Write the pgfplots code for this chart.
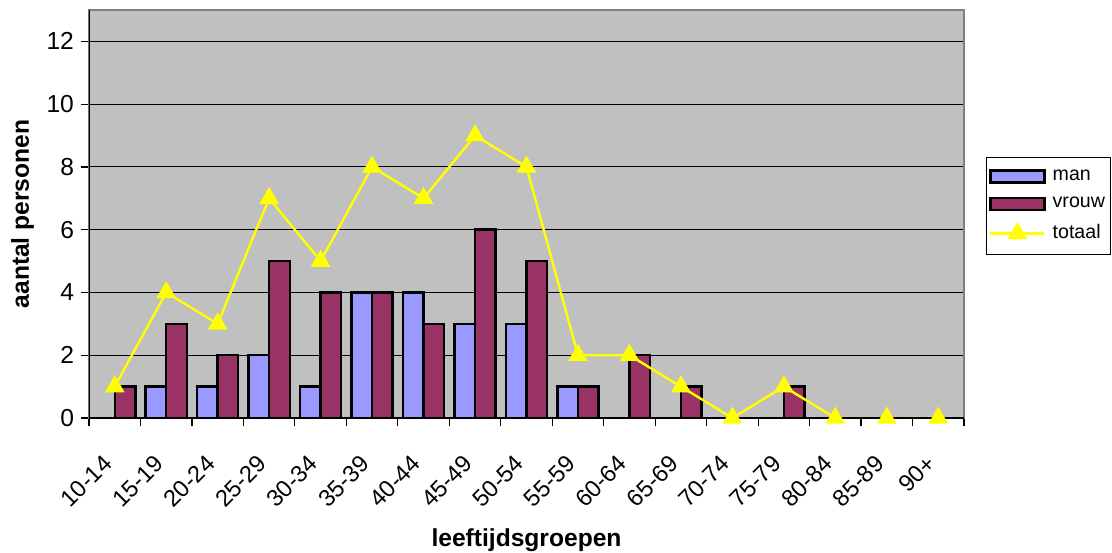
\documentclass[border=0pt]{standalone}
\usepackage{fontspec}
\setmainfont{Liberation Sans}
\usepackage{pgfplots}
\pgfplotsset{compat=1.18}
\definecolor{plotbg}{RGB}{192,192,192}
\definecolor{mancol}{RGB}{153,153,255}
\definecolor{vrouwcol}{RGB}{153,51,102}
\definecolor{totcol}{RGB}{255,255,0}
\pgfplotsset{
  barlegend/.style={legend image code/.code={\draw[##1] (0pt,-3pt) rectangle (27pt,3pt);}},
  linelegend/.style={legend image code/.code={
      \draw[##1, mark=none] (0pt,0pt) -- (27pt,0pt);
      \draw[##1] plot coordinates {(13.5pt,0pt)};}},
}
\begin{document}
\begin{tikzpicture}
\path[use as bounding box] (-44.5pt,-67pt) rectangle (511.5pt,209pt);
\begin{axis}[
    at={(0,0)}, anchor=south west,
    scale only axis,
    width=437.5pt, height=204pt,
    xmin=-0.5, xmax=16.5,
    ymin=0, ymax=13,
    ytick={0,2,...,12},
    xtick={0,...,16},
    xticklabels={10-14,15-19,20-24,25-29,30-34,35-39,40-44,45-49,50-54,55-59,60-64,65-69,70-74,75-79,80-84,85-89,90+},
    minor xtick={-0.5,0.5,...,16.5},
    major x tick style={draw=none},
    minor x tick style={black, line width=0.6pt},
    y tick style={black, line width=0.6pt},
    tick align=outside,
    major tick length=4pt, minor tick length=4pt,
    xtick pos=bottom, ytick pos=left,
    xticklabel style={xshift=-6.5pt, yshift=-9pt, rotate=45, anchor=north east, font=\fontsize{11.8}{14}\selectfont},
    yticklabel style={font=\fontsize{12.3}{14}\selectfont},
    /pgf/number format/assume math mode=true,
    ymajorgrids,
    grid style={black, line width=0.5pt},
    axis line style={draw=gray, line width=0.8pt},
    axis background/.style={fill=plotbg},
    xlabel={\bfseries leeftijdsgroepen},
    ylabel={\bfseries aantal personen},
    label style={font=\fontsize{12.3}{14}\selectfont\bfseries},
    xlabel style={at={(0.5,0)}, anchor=north, yshift=-52pt},
    ylabel style={at={(0,0.5)}, yshift=24pt},
    legend style={at={(1.025,0.52)}, anchor=west, draw=black, fill=white,
        font=\fontsize{9.8}{12}\selectfont, row sep=5pt, inner xsep=1.5pt, inner ysep=5pt,
        nodes={inner xsep=1pt, inner ysep=1pt},
        /tikz/every odd column/.append style={column sep=2.5pt},
        legend cell align=left},
]
\addplot[ybar, bar width=0.4, bar shift=-0.2, fill=mancol, draw=black, line width=1.2pt, barlegend]
    coordinates {(0,0) (1,1) (2,1) (3,2) (4,1) (5,4) (6,4) (7,3) (8,3) (9,1) (10,0) (11,0) (12,0) (13,0) (14,0) (15,0) (16,0)};
\addlegendentry{man}
\addplot[ybar, bar width=0.4, bar shift=0.2, fill=vrouwcol, draw=black, line width=1.2pt, barlegend]
    coordinates {(0,1) (1,3) (2,2) (3,5) (4,4) (5,4) (6,3) (7,6) (8,5) (9,1) (10,2) (11,1) (12,0) (13,1) (14,0) (15,0) (16,0)};
\addlegendentry{vrouw}
\addplot[totcol, line width=1.2pt, mark=triangle*, mark size=4.5pt, mark options={fill=totcol, draw=totcol}, linelegend]
    coordinates {(0,1) (1,4) (2,3) (3,7) (4,5) (5,8) (6,7) (7,9) (8,8) (9,2) (10,2) (11,1) (12,0) (13,1) (14,0) (15,0) (16,0)};
\addlegendentry{totaal}
\draw[black, line width=0.8pt] (rel axis cs:0,0) -- (rel axis cs:0,1);
\draw[black, line width=0.8pt] (rel axis cs:0,0) -- (rel axis cs:1,0);
\end{axis}
\end{tikzpicture}
\end{document}
